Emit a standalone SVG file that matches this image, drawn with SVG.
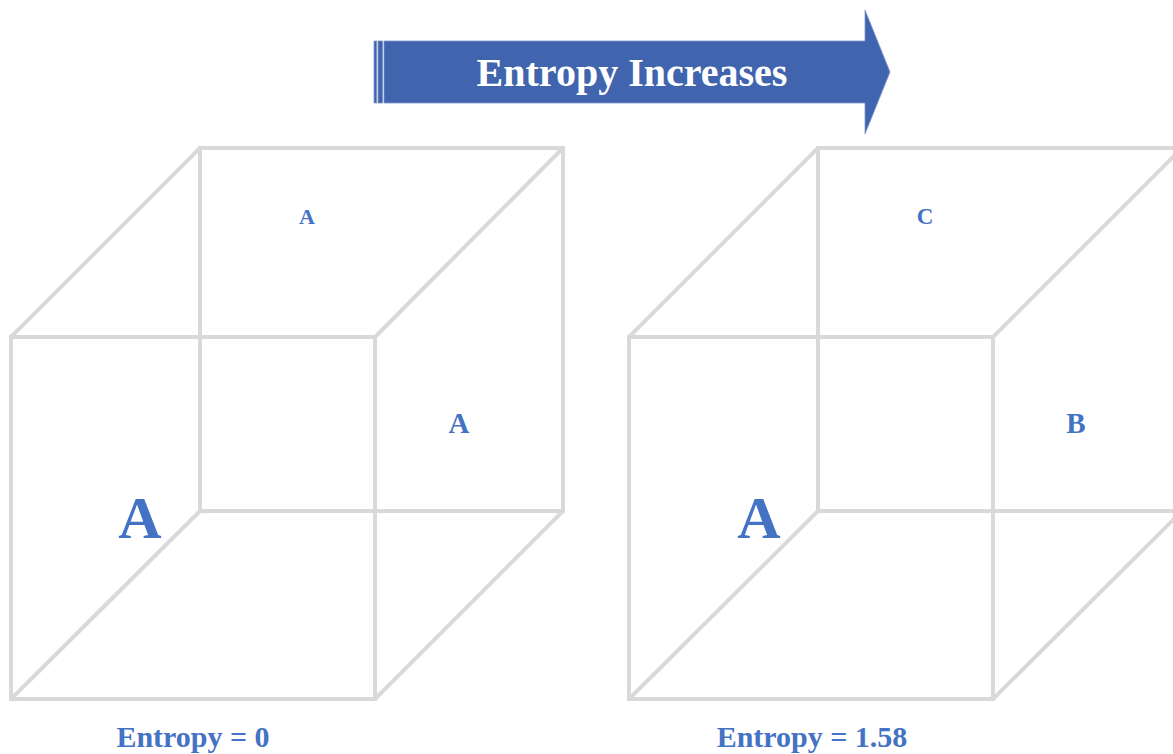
<svg xmlns="http://www.w3.org/2000/svg" width="1173" height="754" viewBox="0 0 1173 754">
<style>
.edge{fill:none;stroke:#d9d9d9;stroke-width:4;stroke-linejoin:miter}
.lbl{font-family:"Liberation Serif","Times New Roman",serif;font-weight:bold;fill:#4472c4;text-anchor:middle}
.arrowfill{fill:#4064ad;stroke:#7f98cc;stroke-width:0.8}
</style>
<rect width="1173" height="754" fill="#ffffff"/>
<g id="arrow">
<rect class="arrowfill" x="374" y="41" width="2.7" height="62"/>
<rect class="arrowfill" x="378" y="41" width="4.7" height="62"/>
<path class="arrowfill" d="M384,41 L865,41 L865,10 L890,72 L865,134 L865,103 L384,103 Z"/>
<text x="632" y="86" font-family="'Liberation Serif','Times New Roman',serif" font-weight="bold" font-size="40" fill="#ffffff" text-anchor="middle">Entropy Increases</text>
</g>
<g id="cube-left">
<rect class="edge" x="200" y="148" width="363" height="363"/>
<rect class="edge" x="11" y="337" width="364" height="362"/>
<path class="edge" d="M11,337 L200,148 M375,337 L563,148 M11,699 L200,511 M375,699 L563,511"/>
<text class="lbl" x="307" y="224" font-size="22">A</text>
<text class="lbl" x="459" y="433" font-size="29">A</text>
<text class="lbl" x="140" y="538" font-size="60">A</text>
<text class="lbl" x="193" y="747" font-size="30">Entropy = 0</text>
</g>
<g id="cube-right">
<rect class="edge" x="818" y="148" width="364" height="363"/>
<rect class="edge" x="629" y="337" width="364" height="362"/>
<path class="edge" d="M629,337 L818,148 M993,337 L1182,148 M629,699 L818,511 M993,699 L1182,511"/>
<text class="lbl" x="925" y="224" font-size="23">C</text>
<text class="lbl" x="1076" y="433" font-size="29">B</text>
<text class="lbl" x="759" y="538" font-size="60">A</text>
<text class="lbl" x="812" y="747" font-size="30">Entropy = 1.58</text>
</g>
<g id="connectors"/>
</svg>
